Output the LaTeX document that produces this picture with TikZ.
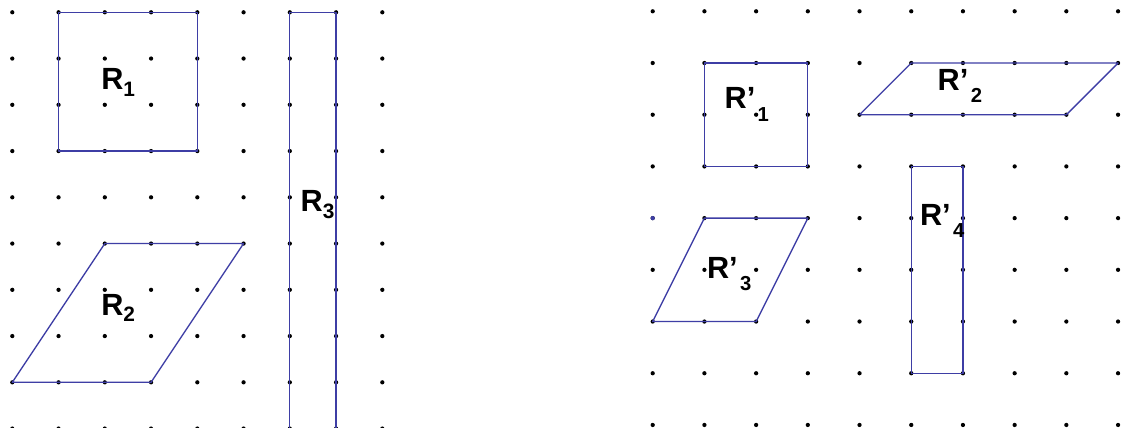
\documentclass[tikz,border=0pt]{standalone}
\usepackage{fontspec}
\setmainfont{Liberation Sans}
\usepackage{xcolor}
\usepackage{tikz}
\definecolor{shapeblue}{RGB}{62,62,165}
\newcommand{\lowidx}[1]{\raisebox{-0.22em}{\scalebox{0.68}{#1}}}
\newcommand{\primeidx}[1]{’\kern0.08em\raisebox{-0.4em}{\scalebox{0.66}{#1}}}

\begin{document}
\begin{tikzpicture}[
  x=0.75pt, y=-0.75pt,
  griddot/.style={fill=black},
  edge/.style={draw=shapeblue, line width=1pt, line join=round},
  lab/.style={font=\bfseries\fontsize{23}{23}\selectfont, inner sep=0pt}
]
\useasboundingbox[fill=white] (0,0) rectangle (1122,428);

% left grid
\begin{scope}[shift={(12.3,12.3)}, x=34.69pt, y=-34.69pt]
  \foreach \i in {0,...,8}
    \foreach \j in {0,...,9}
      \fill[griddot] (\i,\j) circle (1.6pt);
  \draw[edge] (1,0) rectangle (4,3);
  \draw[edge] (2,5) -- (5,5) -- (3,8) -- (0,8) -- cycle;
  \draw[edge] (6,0) rectangle (7,9);
  \node[lab] (r1) at (2.29,1.52) {R\lowidx{1}};
  \node[lab] (r2) at (2.29,6.39) {R\lowidx{2}};
  \node[lab] (r3) at (6.60,4.16) {R\lowidx{3}};
\end{scope}

% right grid
\begin{scope}[shift={(652.7,11.3)}, x=38.78pt, y=-38.78pt]
  \foreach \i in {0,...,9}
    \foreach \j in {0,...,8}
      \fill[griddot] (\i,\j) circle (1.6pt);
  \fill[shapeblue] (0,4) circle (1.6pt);
  \draw[edge] (1,1) rectangle (3,3);
  \draw[edge] (5,1) -- (9,1) -- (8,2) -- (4,2) -- cycle;
  \draw[edge] (1,4) -- (3,4) -- (2,6) -- (0,6) -- cycle;
  \draw[edge] (5,3) rectangle (6,7);
  \node[lab] (s1) at (1.82,1.80) {R\primeidx{1}};
  \node[lab] (s2) at (5.94,1.45) {R\primeidx{2}};
  \node[lab] (s3) at (1.48,5.08) {R\primeidx{3}};
  \node[lab] (s4) at (5.60,4.05) {R\primeidx{4}};
\end{scope}
\end{tikzpicture}
\end{document}
